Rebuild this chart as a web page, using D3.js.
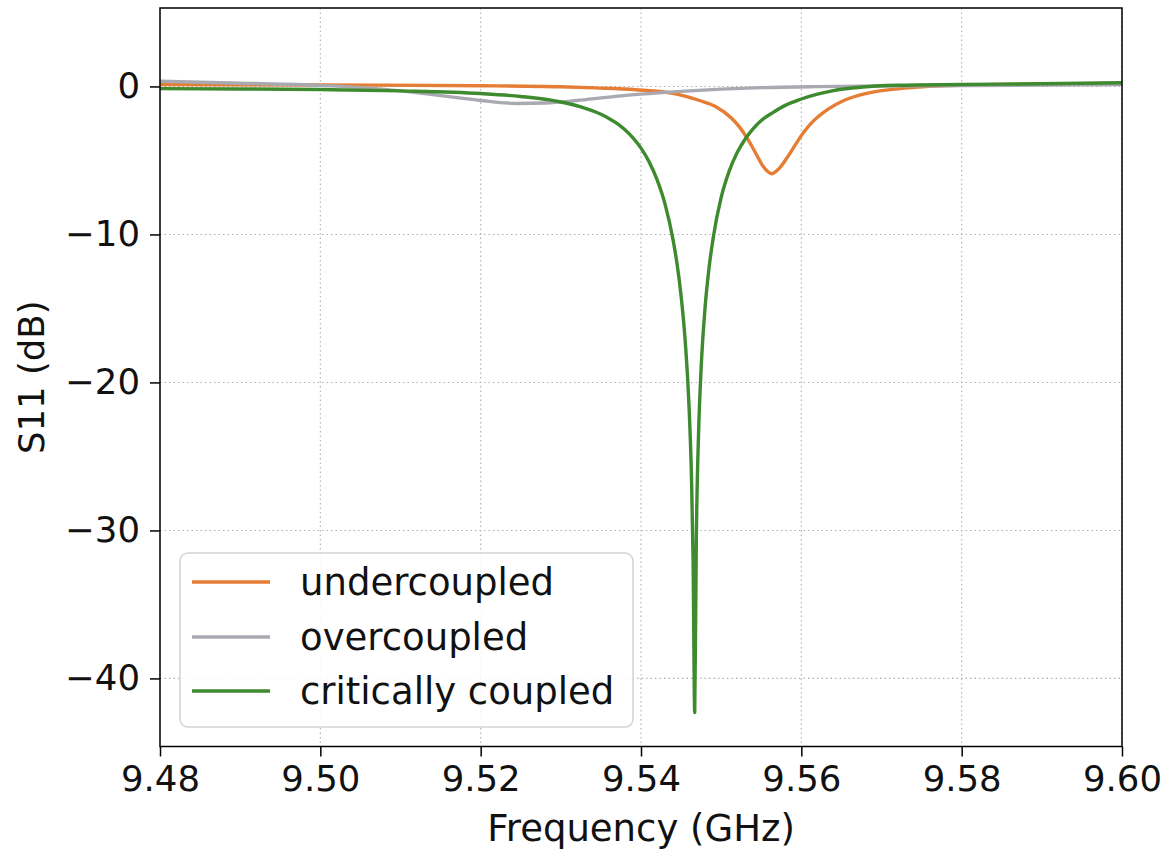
<!DOCTYPE html>
<html>
<head>
<meta charset="utf-8">
<script src="https://cdn.jsdelivr.net/npm/d3@7"></script>
<style>
  html, body { margin: 0; padding: 0; background: #ffffff; }
  svg { display: block; }
  text { font-family: "DejaVu Sans", sans-serif; fill: #111; }
</style>
</head>
<body>
<svg id="chart" width="1168" height="853"></svg>
<script>
// ---- data ----
const xTicks = [9.48, 9.50, 9.52, 9.54, 9.56, 9.58, 9.60];
const yTicks = [0, -10, -20, -30, -40];
const seriesNames = ["undercoupled", "overcoupled", "critically coupled"];
const seriesColors = ["#e67d35", "#a9a9b1", "#3e8a2f"];

const underFreq = [9.480, 9.500, 9.520, 9.530, 9.5343, 9.5393, 9.5443, 9.5473, 9.5493, 9.5513, 9.5523, 9.5533, 9.5543, 9.5553, 9.5558, 9.5563, 9.5568, 9.5573, 9.5583, 9.5593, 9.5603, 9.5613, 9.5633, 9.5653, 9.5683, 9.5733, 9.580, 9.590, 9.600];
const underDb   = [0.12, 0.10, 0.05, -0.02, -0.1, -0.22, -0.5, -0.95, -1.35, -2.15, -2.75, -3.55, -4.5, -5.45, -5.75, -5.9, -5.75, -5.5, -4.75, -3.9, -3.1, -2.45, -1.55, -0.95, -0.45, -0.1, 0.08, 0.16, 0.2];

const overFreq = [9.480, 9.490, 9.500, 9.505, 9.510, 9.515, 9.520, 9.5245, 9.528, 9.532, 9.536, 9.540, 9.545, 9.550, 9.555, 9.562, 9.575, 9.600];
const overDb   = [0.35, 0.22, 0.07, -0.08, -0.3, -0.62, -0.95, -1.15, -1.12, -0.95, -0.72, -0.52, -0.33, -0.18, -0.08, -0.01, 0.04, 0.12];

const critFreq = [9.480, 9.490, 9.500, 9.510, 9.520, 9.525, 9.530, 9.5325, 9.535, 9.536, 9.537, 9.538, 9.539, 9.540, 9.541, 9.542, 9.543, 9.544, 9.5445, 9.545, 9.5455, 9.546, 9.5463, 9.5465, 9.5467, 9.5469, 9.5472, 9.5475, 9.548, 9.5485, 9.549, 9.550, 9.551, 9.552, 9.553, 9.554, 9.555, 9.5565, 9.558, 9.560, 9.562, 9.564, 9.567, 9.572, 9.580, 9.590, 9.600];
const critDb   = [-0.15, -0.17, -0.21, -0.3, -0.48, -0.68, -1.05, -1.38, -1.88, -2.16, -2.5, -2.93, -3.48, -4.17, -5.08, -6.3, -7.95, -10.37, -12.0, -14.15, -17.1, -21.7, -26.5, -32.1, -42.3, -30.7, -23.1, -19.05, -14.9, -12.2, -10.25, -7.5, -5.72, -4.47, -3.55, -2.85, -2.3, -1.75, -1.28, -0.85, -0.52, -0.28, -0.07, 0.08, 0.13, 0.18, 0.25];

// ---- layout ----
const plot = { left: 160, right: 1122, top: 8, bottom: 746.5 };
const svg = d3.select("#chart");

const x = d3.scaleLinear().domain([9.48, 9.60]).range([plot.left, plot.right]);
const y = d3.scaleLinear().domain([-44.6, 5.3]).range([plot.bottom, plot.top]);

// grid
const grid = svg.append("g");
grid.selectAll("line.gx").data(xTicks).join("line")
  .attr("x1", d => x(d)).attr("x2", d => x(d))
  .attr("y1", plot.top).attr("y2", plot.bottom)
  .attr("stroke", "#b0b0b0").attr("stroke-width", 1.1)
  .attr("stroke-dasharray", "1.5,3");
grid.selectAll("line.gy").data(yTicks).join("line")
  .attr("x1", plot.left).attr("x2", plot.right)
  .attr("y1", d => y(d)).attr("y2", d => y(d))
  .attr("stroke", "#b0b0b0").attr("stroke-width", 1.1)
  .attr("stroke-dasharray", "1.5,3");

// clip
svg.append("clipPath").attr("id", "clip").append("rect")
  .attr("x", plot.left).attr("y", plot.top)
  .attr("width", plot.right - plot.left).attr("height", plot.bottom - plot.top);

const line = d3.line().x(d => x(d[0])).y(d => y(d[1])).curve(d3.curveMonotoneX);
const series = [
  d3.zip(underFreq, underDb),
  d3.zip(overFreq, overDb),
  d3.zip(critFreq, critDb)
];
const lines = svg.append("g").attr("clip-path", "url(#clip)");
series.forEach((s, i) => {
  lines.append("path").datum(s)
    .attr("d", line)
    .attr("fill", "none")
    .attr("stroke", seriesColors[i])
    .attr("stroke-width", 3.4)
    .attr("stroke-linejoin", "round")
    .attr("stroke-linecap", "round");
});

// axes
const xAxis = d3.axisBottom(x).tickValues(xTicks).tickFormat(d3.format(".2f")).tickSize(10).tickPadding(9);
const yAxis = d3.axisLeft(y).tickValues(yTicks).tickFormat(d3.format("d")).tickSize(10).tickPadding(10);

const gx = svg.append("g").attr("transform", `translate(0,${plot.bottom})`).call(xAxis);
const gy = svg.append("g").attr("transform", `translate(${plot.left},0)`).call(yAxis);
[gx, gy].forEach(g => {
  g.select(".domain").remove();
  g.selectAll(".tick line").attr("stroke", "#000").attr("stroke-width", 1.5);
  g.selectAll(".tick text").attr("font-size", 35.5).attr("fill", "#111")
    .attr("font-family", "DejaVu Sans, sans-serif");
});

// frame
svg.append("rect")
  .attr("x", plot.left).attr("y", plot.top)
  .attr("width", plot.right - plot.left).attr("height", plot.bottom - plot.top)
  .attr("fill", "none").attr("stroke", "#000").attr("stroke-width", 1.5);

// axis labels
svg.append("text")
  .attr("x", (plot.left + plot.right) / 2).attr("y", 841)
  .attr("text-anchor", "middle").attr("font-size", 37)
  .text("Frequency (GHz)");
svg.append("text")
  .attr("transform", `translate(44,${(plot.top + plot.bottom) / 2}) rotate(-90)`)
  .attr("text-anchor", "middle").attr("font-size", 35.5)
  .text("S11 (dB)");

// legend
const legend = svg.append("g");
legend.append("rect")
  .attr("x", 180).attr("y", 553).attr("width", 453).attr("height", 174)
  .attr("rx", 8).attr("ry", 8)
  .attr("fill", "#ffffff").attr("fill-opacity", 0.85)
  .attr("stroke", "#d3d3d3").attr("stroke-width", 1.5);
const legendY = [582, 637, 691];
seriesNames.forEach((name, i) => {
  legend.append("line")
    .attr("x1", 192).attr("x2", 270)
    .attr("y1", legendY[i]).attr("y2", legendY[i])
    .attr("stroke", seriesColors[i]).attr("stroke-width", 3.4);
  legend.append("text")
    .attr("x", 300).attr("y", legendY[i])
    .attr("dy", "0.35em").attr("font-size", 37)
    .text(name);
});
</script>
</body>
</html>
